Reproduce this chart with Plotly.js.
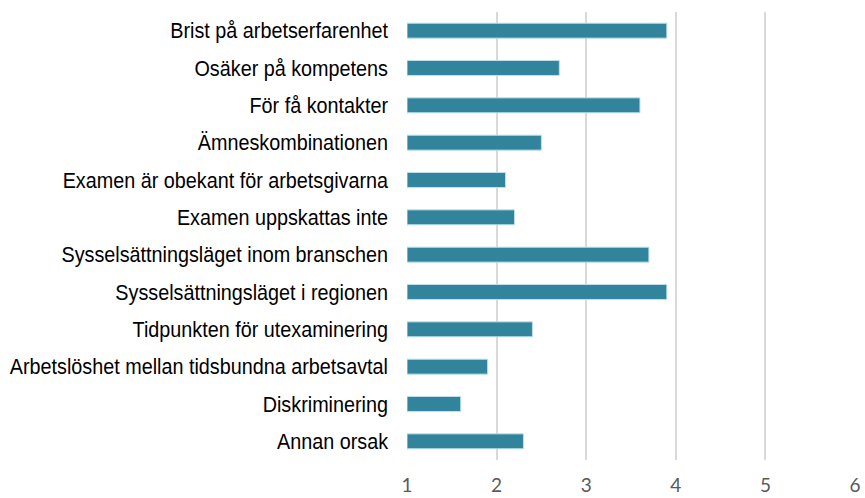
<!DOCTYPE html>
<html><head><meta charset="utf-8">
<script src="https://cdn.plot.ly/plotly-3.0.1.min.js"></script>
<style>html,body{margin:0;padding:0;background:#fff}</style>
</head><body>
<div id="chart" style="width:865px;height:498px"></div>
<script>
const categories = [
  "Brist på arbetserfarenhet",
  "Osäker på kompetens",
  "För få kontakter",
  "Ämneskombinationen",
  "Examen är obekant för arbetsgivarna",
  "Examen uppskattas inte",
  "Sysselsättningsläget inom branschen",
  "Sysselsättningsläget i regionen",
  "Tidpunkten för utexaminering",
  "Arbetslöshet mellan tidsbundna arbetsavtal",
  "Diskriminering",
  "Annan orsak"
];
const values = [3.9, 2.7, 3.6, 2.5, 2.1, 2.2, 3.7, 3.9, 2.4, 1.9, 1.6, 2.3];
const xTicks = [1, 2, 3, 4, 5, 6];

const baseVal = 1;
Plotly.newPlot('chart', [{
  type: 'bar',
  orientation: 'h',
  y: categories,
  x: values.map(v => v - baseVal),
  base: baseVal,
  marker: {color: '#31849B', line: {color: '#bfe0ea', width: 1}},
  hoverinfo: 'none'
}], {
  width: 865, height: 498,
  margin: {l: 407, r: 10, t: 12, b: 38},
  paper_bgcolor: '#fff', plot_bgcolor: '#fff',
  bargap: 0.6,
  showlegend: false,
  xaxis: {
    range: [1, 6], tickvals: xTicks, ticktext: xTicks.map(String),
    showgrid: true, gridcolor: '#d9d9d9', gridwidth: 2,
    zeroline: false, showline: false, ticks: '',
    tickfont: {family: 'Lato, "Open Sans", sans-serif', size: 19, color: '#595959'},
    ticklabelstandoff: 12
  },
  yaxis: {
    autorange: 'reversed', showgrid: false, zeroline: false, showline: false, ticks: '',
    tickfont: {family: '"Liberation Sans", Arial, sans-serif', size: 22, color: '#000'},
    ticklabelstandoff: 18
  }
}, {displayModeBar: false, staticPlot: true}).then(function (gd) {
  // condense the category labels horizontally, anchored at their right edge
  gd.querySelectorAll('.ytick text').forEach(function (t) {
    const b = t.getBBox();
    const xr = b.x + b.width;
    const prev = t.getAttribute('transform') || '';
    t.setAttribute('transform', prev + ' translate(' + xr + ',0) scale(0.9,1) translate(' + (-xr) + ',0)');
  });
});
</script>
</body></html>
